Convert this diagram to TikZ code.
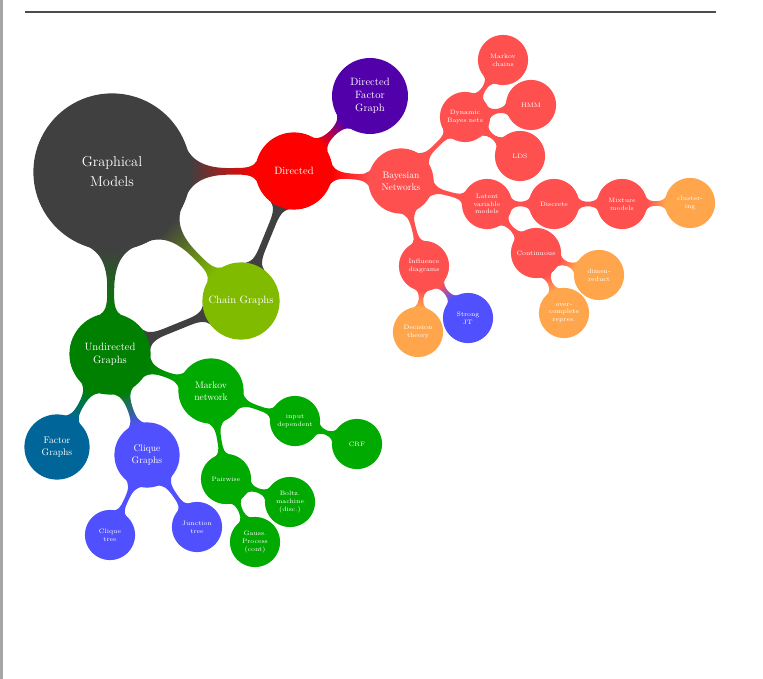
\documentclass[tikz,border=0pt]{standalone}
\usepackage{tikz}
\usetikzlibrary{mindmap,backgrounds}
\definecolor{gmgray}{HTML}{404040}
\definecolor{gmred}{HTML}{FF0000}
\definecolor{gmlightred}{HTML}{FF5050}
\definecolor{gmpurple}{HTML}{5200AA}
\definecolor{gmorange}{HTML}{FFA64D}
\definecolor{gmblue}{HTML}{5050FF}
\definecolor{gmlime}{HTML}{80BB00}
\definecolor{gmdkgreen}{HTML}{008000}
\definecolor{gmgreen}{HTML}{00AA00}
\definecolor{gmteal}{HTML}{006699}

\begin{document}
\begin{tikzpicture}[mindmap, x=1pt, y=-1pt,
  % circle sizes follow the depth in the map
  rootnode/.style={concept, concept color=gmgray, text=white, minimum size=156pt, text width=120pt, inner sep=0pt, align=center, font=\fontsize{14.4}{20}\selectfont},
  bignode/.style={concept, text=white, minimum size=76pt, text width=66pt, inner sep=0pt, align=center, font=\fontsize{10.6}{13}\selectfont},
  midnode/.style={concept, text=white, minimum size=64pt, text width=56pt, inner sep=0pt, align=center, font=\fontsize{9.6}{12}\selectfont},
  smallnode/.style={concept, text=white, minimum size=49pt, text width=44pt, inner sep=0pt, align=center, font=\fontsize{6.4}{7.8}\selectfont},
  % bars get thinner further out
  barA/.style={line width=7pt},
  barB/.style={line width=5pt},
  barC/.style={line width=3.5pt},
]
\useasboundingbox (0,0) rectangle (763,679);
\draw[gray!70, line width=3pt] (1.5,0) -- (1.5,679);
\draw[gray!60!black, line width=1.5pt] (25,12) -- (716,12);

% first level
\node[rootnode] (gm) at (112,172) {Graphical\\Models};
\node[bignode, concept color=gmred] (dir) at (294,171) {Directed};
\node[bignode, concept color=gmlime] (chain) at (241,301) {Chain Graphs};
\node[bignode, concept color=gmdkgreen, minimum size=80pt] (undir) at (110,354) {Undirected\\Graphs};
\node[bignode, concept color=gmpurple, minimum size=70pt] (dfg) at (370,96) {Directed\\Factor\\Graph};

% directed side
\node[midnode, concept color=gmlightred] (bn) at (401,181) {Bayesian\\Networks};
\node[smallnode, concept color=gmlightred] (dbn) at (465,117) {Dynamic\\Bayes nets};
\node[smallnode, concept color=gmlightred] (mc) at (503,60) {Markov\\chains};
\node[smallnode, concept color=gmlightred] (hmm) at (531,105) {HMM};
\node[smallnode, concept color=gmlightred] (lds) at (520,156) {LDS};
\node[smallnode, concept color=gmlightred] (lvm) at (487,204) {Latent\\variable\\models};
\node[smallnode, concept color=gmlightred] (disc) at (554,204) {Discrete};
\node[smallnode, concept color=gmlightred] (mix) at (622,204) {Mixture\\models};
\node[smallnode, concept color=gmorange] (clust) at (690,203) {cluster-\\ing};
\node[smallnode, concept color=gmlightred] (cont) at (536,253) {Continuous};
\node[smallnode, concept color=gmorange] (dimred) at (599,275) {dimen-\\reduct};
\node[smallnode, concept color=gmorange] (overc) at (564,313) {over-\\complete\\repres.};
\node[smallnode, concept color=gmlightred] (infl) at (424,266) {Influence\\diagrams};
\node[smallnode, concept color=gmorange] (dec) at (418,332) {Decision\\theory};
\node[smallnode, concept color=gmblue] (sjt) at (468,318) {Strong\\JT};

% undirected side
\node[midnode, concept color=gmgreen] (mn) at (211,391) {Markov\\network};
\node[smallnode, concept color=gmgreen] (inpdep) at (295,421) {input\\dependent};
\node[smallnode, concept color=gmgreen] (crf) at (357,444) {CRF};
\node[smallnode, concept color=gmgreen] (pair) at (226,479) {Pairwise};
\node[smallnode, concept color=gmgreen] (boltz) at (290,502) {Boltz.\\machine\\(disc.)};
\node[smallnode, concept color=gmgreen] (gauss) at (255,542) {Gauss.\\Process\\(cont)};
\node[midnode, concept color=gmteal] (fg) at (57,447) {Factor\\Graphs};
\node[midnode, concept color=gmblue] (cg) at (147,455) {Clique\\Graphs};
\node[smallnode, concept color=gmblue] (ctree) at (110,535) {Clique\\tree};
\node[smallnode, concept color=gmblue] (jtree) at (197,527) {Junction\\tree};

\begin{pgfonlayer}{background}
\path[barA] (gm) to[circle connection bar switch color=from (gmgray) to (gmred)] (dir);
\path[barA] (gm) to[circle connection bar switch color=from (gmgray) to (gmlime)] (chain);
\path[barA] (gm) to[circle connection bar switch color=from (gmgray) to (gmdkgreen)] (undir);
\path[barB] (dir) to[circle connection bar switch color=from (gmgray) to (gmgray)] (chain);
\path[barB] (chain) to[circle connection bar switch color=from (gmgray) to (gmgray)] (undir);
\path[barB] (dir) to[circle connection bar switch color=from (gmred) to (gmpurple)] (dfg);
\path[barB] (dir) to[circle connection bar switch color=from (gmred) to (gmlightred)] (bn);
\path[barB] (undir) to[circle connection bar switch color=from (gmdkgreen) to (gmgreen)] (mn);
\path[barB] (undir) to[circle connection bar switch color=from (gmdkgreen) to (gmteal)] (fg);
\path[barB] (undir) to[circle connection bar switch color=from (gmdkgreen) to (gmblue)] (cg);
\foreach \a/\b in {bn/dbn, bn/lvm, bn/infl, dbn/mc, dbn/hmm, dbn/lds, lvm/disc, lvm/cont, disc/mix}
  \path[barC] (\a) to[circle connection bar switch color=from (gmlightred) to (gmlightred)] (\b);
\foreach \a/\b in {mix/clust, cont/dimred, cont/overc, infl/dec}
  \path[barC] (\a) to[circle connection bar switch color=from (gmlightred) to (gmorange)] (\b);
\path[barC] (infl) to[circle connection bar switch color=from (gmlightred) to (gmblue)] (sjt);
\foreach \a/\b in {mn/inpdep, inpdep/crf, mn/pair, pair/boltz, pair/gauss}
  \path[barC] (\a) to[circle connection bar switch color=from (gmgreen) to (gmgreen)] (\b);
\foreach \a/\b in {cg/ctree, cg/jtree}
  \path[barC] (\a) to[circle connection bar switch color=from (gmblue) to (gmblue)] (\b);
\end{pgfonlayer}
\end{tikzpicture}
\end{document}
